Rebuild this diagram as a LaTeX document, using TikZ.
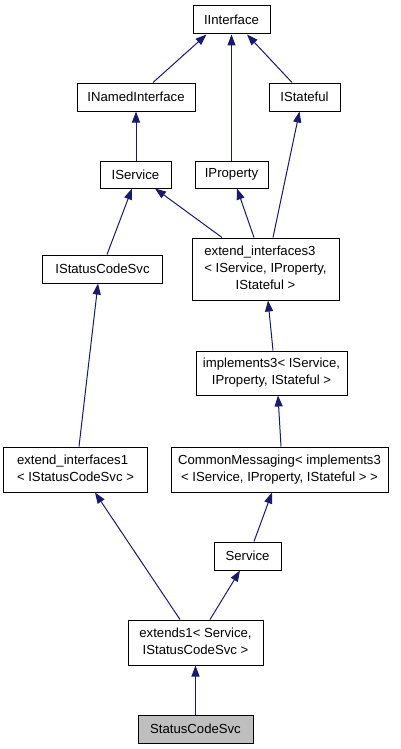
\documentclass[tikz,border=0pt]{standalone}
\usepackage{fontspec}
\setmainfont{Liberation Sans}
\usetikzlibrary{arrows.meta}

\definecolor{edgeblue}{HTML}{191970}
\definecolor{selgray}{gray}{0.75}
\newcommand{\lastrow}[1]{\multicolumn{1}{@{}c@{}}{#1}}

\tikzset{
	cls/.style = {draw=black, fill=white, line width=1bp, inner sep=0pt,
	              font=\fontsize{13.2}{17}\selectfont},
	self/.style = {cls, fill=selgray},
	inherit/.style = {draw=edgeblue, line width=1bp,
	                  {Triangle[length=11bp, width=8bp, fill=edgeblue]}-}
}

\begin{document}
\begin{tikzpicture}[x=1bp, y=-1bp]
		\useasboundingbox (0, 0) rectangle (400, 749);
		\node [cls, minimum width=77bp, minimum height=28bp] (iinterface) at (231.5, 20) {IInterface};
		\node [cls, minimum width=118bp, minimum height=28bp] (inamed) at (136, 97) {INamedInterface};
		\node [cls, minimum width=71bp, minimum height=28bp] (istateful) at (304.5, 97) {IStateful};
		\node [cls, minimum width=71bp, minimum height=27bp] (iservice) at (135.5, 174.5) {IService};
		\node [cls, minimum width=73bp, minimum height=27bp] (iproperty) at (231.5, 174.5) {IProperty};
		\node [cls, minimum width=119bp, minimum height=28bp] (istatus) at (102.5, 269) {IStatusCodeSvc};
		\node [cls, minimum width=147bp, minimum height=62bp] (extint3) at (265.5, 269)
			{\begin{tabular}{@{}l@{}}extend\_interfaces3\\< IService, IProperty,\\\lastrow{IStateful >}\end{tabular}};
		\node [cls, minimum width=151bp, minimum height=44bp] (impl3) at (271.5, 373)
			{\begin{tabular}{@{}l@{}}implements3< IService,\\\lastrow{IProperty, IStateful >}\end{tabular}};
		\node [cls, minimum width=143bp, minimum height=45bp] (extint1) at (75.5, 469.5)
			{\begin{tabular}{@{}l@{}}extend\_interfaces1\\\lastrow{< IStatusCodeSvc >}\end{tabular}};
		\node [cls, minimum width=217bp, minimum height=45bp] (common) at (279.5, 469.5)
			{\begin{tabular}{@{}l@{}}CommonMessaging< implements3\\\lastrow{< IService, IProperty, IStateful > >}\end{tabular}};
		\node [cls, minimum width=67bp, minimum height=28bp] (service) at (247.5, 556) {Service};
		\node [cls, minimum width=135bp, minimum height=45bp] (extends1) at (195.5, 642.5)
			{\begin{tabular}{@{}l@{}}extends1< Service,\\\lastrow{IStatusCodeSvc >}\end{tabular}};
		\node [self, minimum width=115bp, minimum height=28bp] (statussvc) at (195.5, 729) {StatusCodeSvc};
		% inheritance edges, tip at the base class
		\draw [inherit] ([xshift=-25bp]iinterface.south) -- ([xshift=17bp]inamed.north);
		\draw [inherit] (iinterface.south) -- (iproperty.north);
		\draw [inherit] ([xshift=15.5bp]iinterface.south) -- ([xshift=-12.5bp]istateful.north);
		\draw [inherit] (inamed.south) -- (inamed.south |- iservice.north);
		\draw [inherit] ([xshift=-5bp]istateful.south) -- ([xshift=7.5bp]extint3.north);
		\draw [inherit] ([xshift=5.5bp]iproperty.south) -- ([xshift=-11.5bp]extint3.north);
		\draw [inherit] ([xshift=19.5bp]iservice.south) -- ([xshift=-43.5bp]extint3.north);
		\draw [inherit] ([xshift=-3.5bp]iservice.south) -- ([xshift=4.5bp]istatus.north);
		\draw [inherit] ([xshift=2.5bp]extint3.south) -- ([xshift=1.5bp]impl3.north);
		\draw [inherit] ([xshift=-4.5bp]istatus.south) -- ([xshift=3.5bp]extint1.north);
		\draw [inherit] ([xshift=6.5bp]impl3.south) -- ([xshift=1.5bp]common.north);
		\draw [inherit] ([xshift=-7.5bp]common.south) -- ([xshift=6.5bp]service.north);
		\draw [inherit] ([xshift=19.5bp]extint1.south) -- ([xshift=-15.5bp]extends1.north);
		\draw [inherit] ([xshift=-7.5bp]service.south) -- ([xshift=14.5bp]extends1.north);
		\draw [inherit] (extends1.south) -- (statussvc.north);
	\end{tikzpicture}
\end{document}
